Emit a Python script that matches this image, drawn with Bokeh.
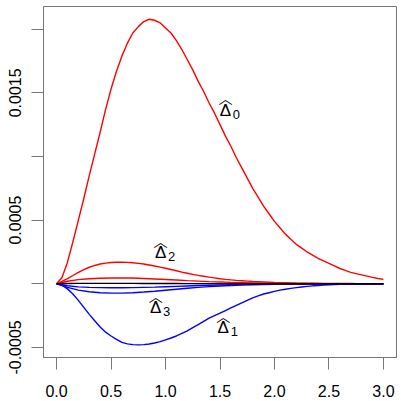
from bokeh.plotting import figure
from bokeh.models import Range1d, FixedTicker
from bokeh.core.properties import value
from bokeh.embed import file_html
from bokeh.resources import INLINE

# fine grid for the large curves
t = [0.00, 0.05, 0.10, 0.15, 0.20, 0.25, 0.30, 0.35, 0.40, 0.45,
     0.50, 0.55, 0.60, 0.65, 0.70, 0.75, 0.80, 0.85, 0.90, 0.95,
     1.00, 1.05, 1.10, 1.15, 1.20, 1.25, 1.30, 1.35, 1.40, 1.45,
     1.50, 1.55, 1.60, 1.65, 1.70, 1.75, 1.80, 1.85, 1.90, 1.95,
     2.00, 2.05, 2.10, 2.15, 2.20, 2.25, 2.30, 2.35, 2.40, 2.45,
     2.50, 2.55, 2.60, 2.65, 2.70, 2.75, 2.80, 2.85, 2.90, 2.95, 3.00]

delta0 = [0, 0.00005, 0.00017, 0.00033, 0.00050, 0.00067, 0.00085, 0.00102, 0.00119, 0.00137,
          0.00153, 0.00167, 0.00179, 0.00189, 0.00197, 0.00202, 0.00206, 0.002078, 0.00207, 0.00205,
          0.00201, 0.00197, 0.00191, 0.00184, 0.00176, 0.00168, 0.00159, 0.00151, 0.00142, 0.00134,
          0.00125, 0.00116, 0.00108, 0.00099, 0.00091, 0.00083, 0.00075, 0.00068, 0.00061, 0.00055,
          0.00049, 0.00044, 0.00039, 0.00035, 0.00031, 0.00028, 0.00025, 0.000225, 0.00020, 0.00018,
          0.00016, 0.00014, 0.00012, 0.000105, 0.00009, 0.00008, 0.00007, 0.00006, 0.00005, 0.000042, 0.000035]

delta1 = [0, -0.00001, -0.00004, -0.00008, -0.00013, -0.000185, -0.00024, -0.00029, -0.00034, -0.00038,
          -0.00041, -0.000437, -0.00046, -0.000472, -0.000478, -0.00048, -0.000478, -0.000473, -0.000465, -0.000454,
          -0.00044, -0.000426, -0.00041, -0.00039, -0.00037, -0.000345, -0.00032, -0.000295, -0.00027, -0.00025,
          -0.00023, -0.00021, -0.00019, -0.00017, -0.00015, -0.00013, -0.00011, -0.000095, -0.00008, -0.00007,
          -0.00006, -0.00005, -0.000043, -0.000036, -0.00003, -0.000025, -0.00002, -0.000016, -0.000013, -0.00001,
          -0.000008, -0.0000065, -0.000005, -0.000004, -0.000003, -0.0000025, -0.000002, -0.0000015, -0.000001, -0.0000005, 0]

delta2 = [0, 0.000018, 0.00004, 0.000065, 0.00009, 0.000112, 0.00013, 0.000144, 0.000155, 0.000162,
          0.000167, 0.000169, 0.00017, 0.000168, 0.000165, 0.00016, 0.000155, 0.000148, 0.00014, 0.000131,
          0.000122, 0.000112, 0.000102, 0.000092, 0.000083, 0.000074, 0.000066, 0.000059, 0.000052, 0.000046,
          0.00004, 0.000035, 0.000031, 0.000027, 0.000024, 0.000021, 0.000018, 0.000016, 0.000014, 0.000012,
          0.00001, 0.000009, 0.000008, 0.000007, 0.000006, 0.0000055, 0.000005, 0.0000045, 0.000004, 0.0000035,
          0.000003, 0.0000025, 0.000002, 0.000002, 0.0000018, 0.0000015, 0.0000013, 0.000001, 0.000001, 0.000001, 0.000001]

# coarse grid for the small curves
tc = [0.0, 0.1, 0.2, 0.3, 0.4, 0.5, 0.6, 0.7, 0.8, 0.9, 1.0,
      1.1, 1.2, 1.3, 1.4, 1.5, 1.6, 1.7, 1.8, 1.9, 2.0,
      2.1, 2.2, 2.3, 2.4, 2.5, 2.6, 2.7, 2.8, 2.9, 3.0]

delta4 = [0, 0.00002, 0.000033, 0.00004, 0.000044, 0.000046, 0.000046, 0.000045, 0.000042, 0.000038, 0.000034,
          0.00003, 0.000025, 0.000021, 0.000017, 0.000014, 0.000011, 0.000009, 0.000007, 0.000005, 0.000004,
          0.000003, 0.000002, 0.000002, 0.000001, 0.000001, 0.000001, 0.000001, 0, 0, 0]

delta_mid = [0, 0.000002, 0.000003, 0.000003, 0.000003, 0.000003, 0.000003, 0.000003, 0.000002, 0.000002, 0.000002,
             0.000002, 0.000001, 0.000001, 0.000001, 0.000001, 0.000001, 0.000001, 0, 0, 0,
             0, 0, 0, 0, 0, 0, 0, 0, 0, 0]

delta5 = [0, -0.000015, -0.000024, -0.000028, -0.00003, -0.000031, -0.000031, -0.00003, -0.000028, -0.000026, -0.000023,
          -0.00002, -0.000017, -0.000014, -0.000011, -0.000009, -0.000007, -0.000005, -0.000004, -0.000003, -0.000002,
          -0.000001, -0.000001, -0.000001, -0.000001, 0, 0, 0, 0, 0, 0]

delta3 = [0, -0.000028, -0.00005, -0.000063, -0.00007, -0.000073, -0.000073, -0.00007, -0.000065, -0.000059, -0.000051,
          -0.000043, -0.000035, -0.000028, -0.000022, -0.000017, -0.000013, -0.00001, -0.000008, -0.000006, -0.000004,
          -0.000003, -0.000002, -0.000002, -0.000001, -0.000001, 0, 0, 0, 0, 0]

x_ticks = [0.0, 0.5, 1.0, 1.5, 2.0, 2.5, 3.0]
x_tick_labels = ["0.0", "0.5", "1.0", "1.5", "2.0", "2.5", "3.0"]
y_ticks = [-0.0005, 0.0, 0.0005, 0.001, 0.0015, 0.002]
y_tick_labels = ["-0.0005", "", "0.0005", "", "0.0015", ""]

lab_x = [1.55, 1.53, 0.955, 0.91]
lab_y = [0.001365, -0.000345, 0.000245, -0.000188]
lab_sub = ["0", "1", "2", "3"]
lab_main = ["\u0394", "\u0394", "\u0394", "\u0394"]
lab_hat = ["\uFE3F", "\uFE3F", "\uFE3F", "\uFE3F"]

AX = "#777777"

p = figure(width=401, height=401,
           x_range=Range1d(-0.12, 3.12), y_range=Range1d(-0.000579, 0.002178),
           output_backend="svg", toolbar_location=None,
           min_border_left=43, min_border_right=5, min_border_top=6, min_border_bottom=44)
p.styles = {"position": "absolute", "left": "0px", "top": "0px"}
p.grid.visible = False
p.background_fill_color = "white"
p.border_fill_color = "white"
p.outline_line_color = AX
p.outline_line_width = 1

p.xaxis.ticker = FixedTicker(ticks=x_ticks)
p.xaxis.major_label_overrides = {k: v for k, v in zip(x_ticks, x_tick_labels)}
p.yaxis.ticker = FixedTicker(ticks=y_ticks)
p.yaxis.major_label_overrides = {k: v for k, v in zip(y_ticks, y_tick_labels)}
for ax in (p.xaxis, p.yaxis):
    ax.axis_line_color = AX
    ax.major_tick_line_color = AX
    ax.major_tick_out = 12
    ax.major_tick_in = 0
    ax.minor_tick_line_color = None
    ax.major_label_text_font = "Liberation Sans"
    ax.major_label_text_font_size = "16px"
    ax.major_label_text_color = "black"
p.xaxis.major_label_standoff = 15
p.yaxis.major_label_standoff = 10
p.yaxis.major_label_orientation = "vertical"

lw = 1.4
p.line(t, delta0, line_color="red", line_width=lw)
p.line(t, delta2, line_color="red", line_width=lw)
p.line(tc, delta4, line_color="red", line_width=lw)
p.line(t, delta1, line_color="blue", line_width=lw)
p.line(tc, delta3, line_color="blue", line_width=lw)
p.line(tc, delta5, line_color="blue", line_width=lw)
p.line(tc, delta_mid, line_color="black", line_width=lw)

p.text(x=lab_x, y=lab_y, text=lab_main, text_font=value("Liberation Sans"), text_font_size="17px",
       text_align="center", text_baseline="middle", text_color="black")
p.text(x=lab_x, y=lab_y, text=lab_sub, text_font=value("Liberation Sans"), text_font_size="13px",
       text_align="center", text_baseline="middle", text_color="black", x_offset=11, y_offset=4)
p.text(x=lab_x, y=lab_y, text=lab_hat, text_font=value("Noto Sans CJK JP"), text_font_size="14px",
       text_align="center", text_baseline="middle", text_color="black", y_offset=-13)

open("out.html", "w").write(file_html(p, INLINE))
